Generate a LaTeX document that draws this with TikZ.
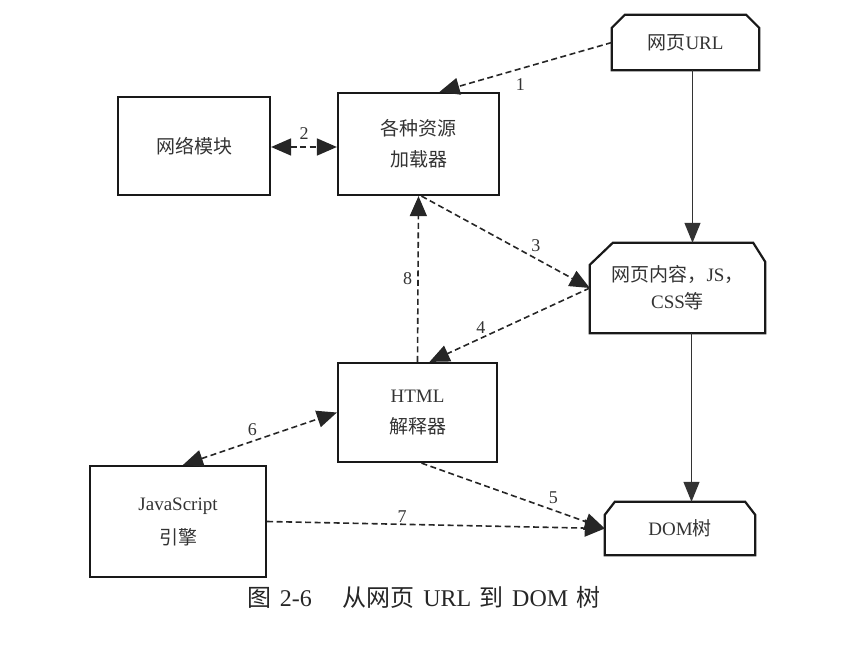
\documentclass[tikz,border=0pt]{standalone}
\usepackage{fontspec}
\setmainfont{Liberation Serif}
\newfontfamily\cjk{Noto Sans CJK SC}
\usetikzlibrary{arrows.meta,calc}
\begin{document}
\begin{tikzpicture}[x=1pt,y=-1pt,
  boxnode/.style={draw=black!90,line width=2.2pt,minimum width=#1,inner sep=0pt,align=center,font=\fontsize{19}{31}\selectfont,text=black!80},
  ghost/.style={draw=none,inner sep=0pt,align=center,font=\fontsize{19}{27}\selectfont,text=black!80},
  dasharrow/.style={line width=1.6pt,draw=black!85,dash pattern=on 6pt off 3.5pt,-{Triangle[length=20pt,width=17pt]}},
  dualarrow/.style={line width=1.6pt,draw=black!85,dash pattern=on 6pt off 3.5pt,{Triangle[length=20pt,width=17pt]}-{Triangle[length=20pt,width=17pt]}},
  solidarrow/.style={line width=1.3pt,draw=black!80,-{Triangle[length=20pt,width=16pt]}},
  chamfer/.style={draw=black!90,line width=2.2pt,line join=miter},
  numlabel/.style={font=\fontsize{18}{20}\selectfont,text=black!80,inner sep=1pt}]
\useasboundingbox (0,0) rectangle (844,666);

% rectangular boxes
\node[boxnode=152pt,minimum height=98pt] (net) at (194,146) {\cjk 网络模块};
\node[boxnode=161pt,minimum height=102pt] (loader) at (418.5,144) {\cjk 各种资源\\\cjk 加载器};
\node[boxnode=159pt,minimum height=99pt] (html) at (417.5,412.5) {HTML\\\cjk 解释器};
\node[boxnode=176pt,minimum height=111pt] (js) at (178,521.5) {JavaScript\\[3pt]\cjk 引擎};

% chamfered boxes
\node[ghost,minimum width=147pt,minimum height=55pt] (url) at (685.5,42.5) {{\cjk 网页}URL};
\draw[chamfer] (url.south west) -- ($(url.north west)+(0,13)$) -- ($(url.north west)+(13,0)$)
  -- ($(url.north east)+(-13,0)$) -- ($(url.north east)+(0,13)$) -- (url.south east) -- cycle;

\node[ghost,minimum width=175pt,minimum height=90pt] (content) at (677.5,288) {{\cjk 网页内容，}JS{\cjk ，}\\CSS{\cjk 等}};
\draw[chamfer] (content.south west) -- ($(content.north west)+(0,22)$) -- ($(content.north west)+(23,0)$)
  -- ($(content.north east)+(-12,0)$) -- ($(content.north east)+(0,19)$) -- (content.south east) -- cycle;

\node[ghost,minimum width=150pt,minimum height=53pt] (dom) at (680,528.5) {DOM{\cjk 树}};
\draw[chamfer] (dom.south west) -- ($(dom.north west)+(0,13)$) -- ($(dom.north west)+(10,0)$)
  -- ($(dom.north east)+(-10,0)$) -- ($(dom.north east)+(0,13)$) -- (dom.south east) -- cycle;

% solid arrows
\draw[solidarrow] ([xshift=7pt]url.south) -- ([xshift=7pt]url.south |- content.north);
\draw[solidarrow] ([xshift=14pt]content.south) -- ([xshift=14pt]content.south |- dom.north);

% dashed arrows
\draw[dasharrow] (url.west) -- ([xshift=21pt]loader.north) node[numlabel,pos=0.53,below=8pt] {1};
\draw[dualarrow] (net.east |- 0,147) coordinate (n2a) -- (loader.west |- n2a) node[numlabel,midway,above=6pt] {2};
\draw[dasharrow] ([xshift=3pt]loader.south) -- (content.west) node[numlabel,pos=0.68,above=5pt] {3};
\draw[dasharrow] (content.west) -- ([xshift=12pt]html.north) node[numlabel,pos=0.68,above=3pt] {4};
\draw[dasharrow] (html.north) -- (loader.south) node[numlabel,pos=0.5,left=4pt] {8};
\draw[dualarrow] ([xshift=5pt]js.north) -- (html.west) node[numlabel,pos=0.45,above=4pt] {6};
\draw[dasharrow] ([xshift=4pt]html.south) -- (dom.west) node[numlabel,pos=0.72,above=5pt] {5};
\draw[dasharrow] (js.east) -- (dom.west) node[numlabel,pos=0.4,above=0pt] {7};

% caption
\node[font=\fontsize{24}{26}\selectfont,text=black!85] (cap) at (424,597) {{\cjk 图}\hspace{0.35em}2-6\hspace{1.3em}{\cjk 从网页}\hspace{0.35em}URL\hspace{0.35em}{\cjk 到}\hspace{0.35em}DOM\hspace{0.35em}{\cjk 树}};
\end{tikzpicture}
\end{document}
